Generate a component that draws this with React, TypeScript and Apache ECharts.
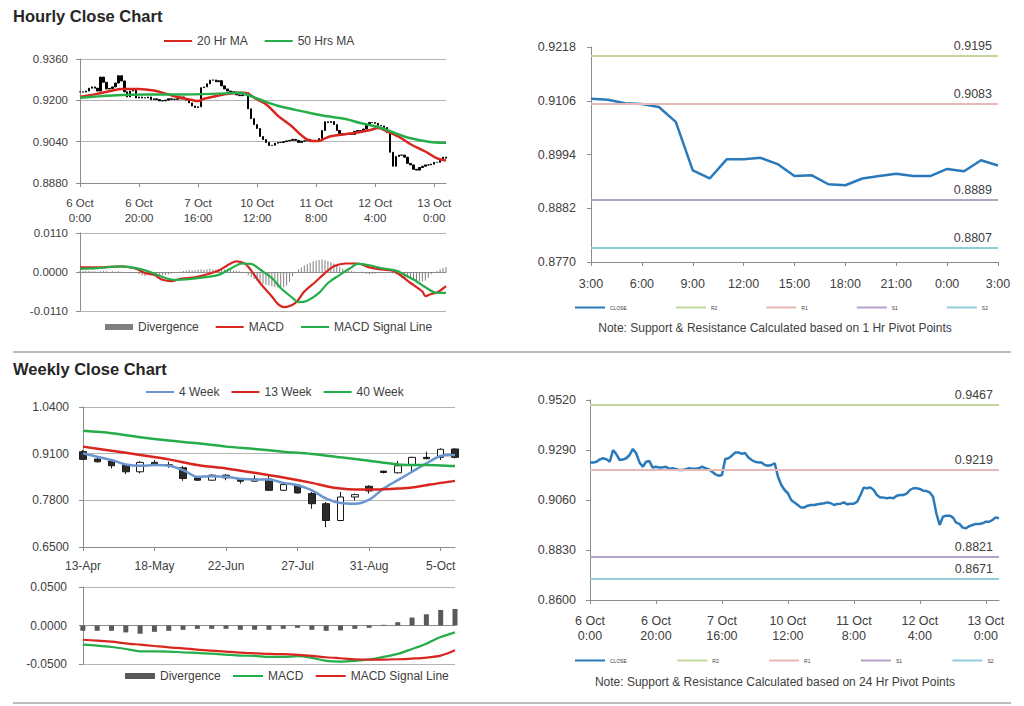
import React, { useEffect, useRef } from 'react';
import * as echarts from 'echarts';

const FONT = '"Liberation Sans", Arial, Helvetica, sans-serif';

// ---------- Hourly data (6 Oct 0:00 -> 13 Oct 4:00, weekend skipped) ----------
const hourlyDays = ['6 Oct', '7 Oct', '10 Oct', '11 Oct', '12 Oct', '13 Oct'];
const hourlyClose = [
  0.9233, 0.9232, 0.9236, 0.9247, 0.9252, 0.9247, 0.9236, 0.9290, 0.9270, 0.9244,
  0.9246, 0.9252, 0.9267, 0.9295, 0.9275, 0.9233, 0.9213, 0.9236, 0.9239, 0.9209,
  0.9213, 0.9209, 0.9210, 0.9213, 0.9203, 0.9206, 0.9203, 0.9198, 0.9198, 0.9201,
  0.9206, 0.9204, 0.9204, 0.9206, 0.9213, 0.9206, 0.9201, 0.9190, 0.9178, 0.9172,
  0.9175, 0.9249, 0.9252, 0.9264, 0.9278, 0.9279, 0.9272, 0.9276, 0.9256, 0.9244,
  0.9236, 0.9233, 0.9232, 0.9221, 0.9218, 0.9221, 0.9229, 0.9167, 0.9129, 0.9106,
  0.9091, 0.9060, 0.9048, 0.9037, 0.9025, 0.9026, 0.9034, 0.9037, 0.9037, 0.9040,
  0.9043, 0.9045, 0.9049, 0.9045, 0.9037, 0.9042, 0.9043, 0.9049, 0.9040, 0.9043,
  0.9043, 0.9052, 0.9083, 0.9117, 0.9114, 0.9118, 0.9106, 0.9083, 0.9071, 0.9071,
  0.9068, 0.9071, 0.9068, 0.9080, 0.9083, 0.9083, 0.9089, 0.9106, 0.9114, 0.9114,
  0.9111, 0.9103, 0.9101, 0.9095, 0.9075, 0.8999, 0.8945, 0.8983, 0.8988, 0.8988,
  0.8980, 0.8956, 0.8950, 0.8933, 0.8930, 0.8940, 0.8945, 0.8950, 0.8950, 0.8953,
  0.8960, 0.8960, 0.8968, 0.8980, 0.8976,
];
const ma20Hr = [
  [0, 0.9214], [5, 0.9223], [11, 0.9238], [14, 0.9244], [20, 0.9244], [25, 0.9238],
  [29, 0.9226], [33, 0.9213], [38, 0.9201], [40, 0.9197], [42, 0.9206], [47, 0.9219],
  [51, 0.9226], [55, 0.9229], [57, 0.9226], [59, 0.9210], [63, 0.9185], [67, 0.9141],
  [72, 0.9097], [75, 0.9065], [78, 0.9044], [81, 0.9043], [83, 0.9053], [85, 0.9061],
  [90, 0.9069], [94, 0.9075], [98, 0.9084], [101, 0.9093], [104, 0.9080], [108, 0.9059],
  [112, 0.9030], [117, 0.9002], [121, 0.8975], [124, 0.8967],
];
const ma50Hr = [
  [0, 0.9210], [11, 0.9219], [22, 0.9223], [33, 0.9223], [45, 0.9225], [54, 0.9229],
  [58, 0.9216], [63, 0.9194], [67, 0.9179], [73, 0.9163], [78, 0.9151], [84, 0.9138],
  [90, 0.9128], [95, 0.9112], [101, 0.9097], [107, 0.9072], [112, 0.9053], [118, 0.9040],
  [122, 0.9036], [124, 0.9036],
];
const hourlyMacd = [
  [0, 0.0013], [6, 0.0013], [14, 0.0016], [19, 0.0009], [22, -0.0003], [25, -0.0008],
  [28, -0.0022], [31, -0.0026], [34, -0.0019], [39, -0.0015], [42, -0.0009], [47, 0.0004],
  [50, 0.0019], [53, 0.0030], [56, 0.0023], [58, 0.0004], [61, -0.0031], [65, -0.0069],
  [67, -0.0090], [69, -0.0099], [73, -0.0087], [76, -0.0055], [80, -0.0026], [83, -0.0003],
  [86, 0.0016], [90, 0.0024], [94, 0.0024], [98, 0.0013], [102, 0.0007], [106, 0.0004],
  [109, -0.0012], [112, -0.0031], [116, -0.0055], [117, -0.0068], [119, -0.0062],
  [121, -0.0058], [124, -0.0040],
];
const hourlySignal = [
  [0, 0.0009], [6, 0.0011], [14, 0.0016], [19, 0.0011], [23, 0.0002], [28, -0.0014],
  [32, -0.0022], [37, -0.0020], [42, -0.0015], [47, -0.0008], [51, 0.0009], [55, 0.0024],
  [58, 0.0023], [61, 0.0007], [65, -0.0017], [68, -0.0045], [72, -0.0073], [74, -0.0085],
  [77, -0.0081], [81, -0.0059], [84, -0.0031], [88, -0.0008], [92, 0.0013], [94, 0.0023],
  [98, 0.0019], [102, 0.0011], [107, 0.0004], [110, -0.0008], [114, -0.0026], [117, -0.0043],
  [121, -0.0059], [124, -0.0059],
];
const hourlyDivergence = [
  0.0003, 0.0003, 0.0004, 0.0003, 0.0002,
  0.0002, 0.0001, 0.0002, 0.0003, 0.0002, 0.0001, 0.0002, 0.0001, 0.0002, 0.0001, 0.0001,
  0, -0.0001, -0.0003, -0.0002,
  -0.0006, -0.0010, -0.0011, -0.0009, -0.0008, -0.0009, -0.0010, -0.0011, -0.0009, -0.0008, -0.0006,
  -0.0004, -0.0002, -0.0001, 0.0001,
  0.0003, 0.0004, 0.0005, 0.0004, 0.0005, 0.0006, 0.0007, 0.0006, 0.0008, 0.0009, 0.0008,
  0.0007, 0.0008, 0.0009, 0.0007, 0.0006, 0.0005, 0.0004, 0.0003, 0.0002, 0.0001,
  -0.0003,
  -0.0009, -0.0014, -0.0020, -0.0025, -0.0030, -0.0033, -0.0036, -0.0038, -0.0040, -0.0042,
  -0.0044, -0.0045, -0.0043, -0.0038, -0.0028,
  -0.0012, -0.0003,
  0.0008, 0.0013, 0.0018, 0.0022, 0.0026, 0.0030, 0.0032, 0.0034, 0.0035, 0.0033, 0.0031,
  0.0028, 0.0024, 0.0019, 0.0014, 0.0009, 0.0005,
  0.0003, 0.0002, 0.0001, 0, -0.0001,
  -0.0003, -0.0005, -0.0006, -0.0005, -0.0004, -0.0003,
  -0.0002, -0.0001, 0, -0.0001,
  -0.0004, -0.0007, -0.0010, -0.0013, -0.0015, -0.0017, -0.0019, -0.0021, -0.0024, -0.0026,
  -0.0027, -0.0024, -0.0016,
  -0.0006, -0.0002,
  0.0003, 0.0007, 0.0011, 0.0014,
];

// ---------- 1 Hr pivot panel ----------
const pivotHours = ['3:00', '4:00', '5:00', '6:00', '7:00', '8:00', '9:00', '10:00', '11:00', '12:00',
  '13:00', '14:00', '15:00', '16:00', '17:00', '18:00', '19:00', '20:00', '21:00', '22:00',
  '23:00', '0:00', '1:00', '2:00', '3:00'];
const pivotClose = [0.9110, 0.9108, 0.9101, 0.9099, 0.9093, 0.9062, 0.8961, 0.8944, 0.8984, 0.8984,
  0.8987, 0.8974, 0.8949, 0.8951, 0.8932, 0.8930, 0.8944, 0.8949, 0.8954, 0.8949,
  0.8949, 0.8964, 0.8959, 0.8982, 0.8971];
const levelNames = ['R2', 'R1', 'S1', 'S2'];
const pivot1hLevels = [0.9195, 0.9083, 0.8889, 0.8807];
const pivot24hLevels = [0.9467, 0.9219, 0.8821, 0.8671];

// ---------- Weekly data ----------
const weeklyDates = ['13-Apr', '20-Apr', '27-Apr', '4-May', '11-May', '18-May', '25-May', '1-Jun', '8-Jun',
  '15-Jun', '22-Jun', '29-Jun', '6-Jul', '13-Jul', '20-Jul', '27-Jul', '3-Aug', '10-Aug', '17-Aug',
  '24-Aug', '31-Aug', '7-Sep', '14-Sep', '21-Sep', '28-Sep', '5-Oct', '12-Oct'];
const weeklyOpen = [0.9156, 0.8950, 0.8894, 0.8782, 0.8595, 0.8857, 0.8791, 0.8707, 0.8426, 0.8361,
  0.8501, 0.8389, 0.8333, 0.8389, 0.8080, 0.8221, 0.7987, 0.7706, 0.7238, 0.7893, 0.8193, 0.8614,
  0.8567, 0.8782, 0.8997, 0.8997, 0.9231];
const weeklyClose = [0.8941, 0.8875, 0.8763, 0.8595, 0.8857, 0.8782, 0.8773, 0.8408, 0.8361, 0.8501,
  0.8426, 0.8333, 0.8398, 0.8080, 0.8239, 0.8006, 0.7706, 0.7238, 0.7893, 0.7959, 0.8062, 0.8576,
  0.8763, 0.8997, 0.8960, 0.9222, 0.8997];
const weeklyLow = [0.8922, 0.8847, 0.8688, 0.8529, 0.8548, 0.8763, 0.8707, 0.8342, 0.8342, 0.8342,
  0.8361, 0.8267, 0.8314, 0.8062, 0.8062, 0.7987, 0.7566, 0.7051, 0.7220, 0.7800, 0.7987, 0.8548,
  0.8548, 0.8595, 0.8941, 0.8922, 0.8969];
const weeklyHigh = [0.9203, 0.8969, 0.8922, 0.8801, 0.8894, 0.8922, 0.8875, 0.8754, 0.8436, 0.8529,
  0.8529, 0.8408, 0.8501, 0.8529, 0.8267, 0.8249, 0.8034, 0.7753, 0.8034, 0.7986, 0.8221, 0.8623,
  0.8894, 0.9016, 0.9156, 0.9250, 0.9250];
const ma4Week = [0.9109, 0.9016, 0.8922, 0.8801, 0.8763, 0.8782, 0.8763, 0.8642, 0.8455, 0.8473,
  0.8455, 0.8398, 0.8380, 0.8380, 0.8286, 0.8221, 0.8080, 0.7847, 0.7725, 0.7706, 0.7818, 0.8127,
  0.8361, 0.8595, 0.8829, 0.9035, 0.9063];
const ma13Week = [[0, 0.9296], [2, 0.9184], [4, 0.9063], [6, 0.8941], [8, 0.8782], [10, 0.8688],
  [12, 0.8567], [14, 0.8436], [16, 0.8286], [17, 0.8193], [18, 0.8127], [19, 0.8099], [20, 0.8099],
  [21, 0.8108], [22, 0.8127], [23, 0.8155], [24, 0.8221], [25, 0.8286], [26, 0.8342]];
const ma40Week = [[0, 0.9736], [2, 0.9671], [4, 0.9558], [6, 0.9465], [8, 0.9390], [10, 0.9296],
  [12, 0.9231], [14, 0.9156], [16, 0.9091], [18, 0.8997], [20, 0.8904], [21, 0.8847], [22, 0.8801],
  [23, 0.8782], [24, 0.8782], [25, 0.8773], [26, 0.8754]];
const weeklyMacd = [-0.0249, -0.0262, -0.0279, -0.0305, -0.0335, -0.0335, -0.0339, -0.0348, -0.0356,
  -0.0365, -0.0378, -0.0391, -0.0395, -0.0408, -0.0408, -0.0399, -0.0421, -0.0459, -0.0468, -0.0459,
  -0.0442, -0.0408, -0.0369, -0.0305, -0.0236, -0.0150, -0.0090];
const weeklySignal = [-0.0185, -0.0197, -0.0210, -0.0232, -0.0249, -0.0266, -0.0283, -0.0296, -0.0313,
  -0.0326, -0.0339, -0.0352, -0.0361, -0.0369, -0.0373, -0.0382, -0.0395, -0.0412, -0.0425, -0.0438,
  -0.0442, -0.0442, -0.0438, -0.0429, -0.0416, -0.0391, -0.0322];
const weeklyDivergence = [-0.0069, -0.0069, -0.0069, -0.0090, -0.0107, -0.0082, -0.0069, -0.0056,
  -0.0043, -0.0043, -0.0043, -0.0056, -0.0056, -0.0056, -0.0043, -0.0030, -0.0056, -0.0069, -0.0064,
  -0.0043, -0.0030, 0.0009, 0.0043, 0.0103, 0.0146, 0.0202, 0.0215];

// ---------- Tick values ----------
const hourlyPriceTicks = [0.888, 0.904, 0.92, 0.936];
const hourlyMacdTicks = [-0.011, 0, 0.011];
const pivot1hTicks = [0.877, 0.8882, 0.8994, 0.9106, 0.9218];
const weeklyPriceTicks = [0.65, 0.78, 0.91, 1.04];
const weeklyMacdTicks = [-0.05, 0, 0.05];
const pivot24hTicks = [0.86, 0.883, 0.906, 0.929, 0.952];

const AXIS = '#8c8c8c';
const GRIDC = '#b4b4b4';
const TXT = '#404040';
const RED = '#d8261f';
const GREEN = '#25ad4a';
const BLUE4 = '#6a96cf';
const CLOSE_BLUE = '#2a7abb';
const levelColors = ['#c3d69b', '#e6b9b8', '#b3a2c7', '#92cddc'];

function yAxis(gridIndex: number, ticks: number[], fontSize: number, margin: number, split: boolean) {
  return {
    type: 'value', gridIndex, min: ticks[0], max: ticks[ticks.length - 1],
    axisLine: { show: true, lineStyle: { color: AXIS } },
    axisTick: { show: true, length: 4, lineStyle: { color: AXIS }, customValues: ticks },
    axisLabel: {
      customValues: ticks, formatter: (v: number) => v.toFixed(4), fontSize, color: TXT,
      fontFamily: FONT, margin,
    },
    splitLine: { show: split, lineStyle: { color: GRIDC, width: 1 } },
  };
}

function catAxis(gridIndex: number, data: string[], interval: number, fontSize: number, margin: number, lineHeight: number) {
  return {
    type: 'category', gridIndex, data, boundaryGap: false,
    axisLine: { lineStyle: { color: AXIS } },
    axisTick: { show: true, interval, length: 4, lineStyle: { color: AXIS } },
    axisLabel: { interval, fontSize, color: TXT, fontFamily: FONT, margin, lineHeight },
    splitLine: { show: false },
  };
}

function lineSeries(name: string, xi: number, data: any[], color: string, width: number, smooth: any) {
  return {
    type: 'line', name, xAxisIndex: xi, yAxisIndex: xi, data, color,
    symbol: 'none', smooth, lineStyle: { color, width }, z: 3,
  };
}

function levelSeries(name: string, xi: number, value: number, color: string) {
  return {
    type: 'line', name, xAxisIndex: xi, yAxisIndex: xi, data: [], color, symbol: 'none',
    lineStyle: { color, width: 2 },
    markLine: {
      silent: true, symbol: ['none', 'none'], animation: false,
      lineStyle: { color, width: 2, type: 'solid' },
      label: {
        show: true, position: 'insideEndTop', formatter: value.toFixed(4), color: TXT,
        fontSize: 12.5, fontFamily: FONT, distance: [6, 3],
      },
      data: [{ yAxis: value }],
    },
  };
}

function buildOption() {
  const allHourCats: string[] = [];
  for (const d of hourlyDays) for (let h = 0; h < 24; h++) allHourCats.push(`${d}\n${h}:00`);
  const hourlyCats = allHourCats.slice(0, hourlyClose.length);
  const hourlyCandles = hourlyClose.map((c, i) => {
    const o = i > 0 ? hourlyClose[i - 1] : c;
    return [o, c, Math.min(o, c), Math.max(o, c)];
  });
  const weeklyCandles = weeklyDates.map((_, i) => [weeklyOpen[i], weeklyClose[i], weeklyLow[i], weeklyHigh[i]]);

  const legendBase = {
    orient: 'horizontal', padding: 0, itemWidth: 28, itemHeight: 6, selectedMode: false,
    itemStyle: { opacity: 0 },
    textStyle: { fontSize: 12, color: TXT, fontFamily: FONT },
  };
  const tinyLegend = {
    orient: 'horizontal', padding: 0, itemWidth: 30, itemHeight: 4, itemGap: 48, selectedMode: false,
    itemStyle: { opacity: 0 },
    textStyle: { fontSize: 5, color: TXT, fontFamily: FONT },
  };

  const series: any[] = [
    // hourly price
    {
      type: 'candlestick', name: 'Hourly', xAxisIndex: 0, yAxisIndex: 0, data: hourlyCandles,
      barWidth: 2, itemStyle: { color: '#000', color0: '#000', borderColor: '#000', borderColor0: '#000', borderWidth: 1 },
    },
    lineSeries('20 Hr MA', 0, ma20Hr, RED, 2.5, 0.35),
    lineSeries('50 Hrs MA', 0, ma50Hr, GREEN, 2.5, 0.35),
    // hourly MACD
    {
      type: 'bar', name: 'Divergence', xAxisIndex: 1, yAxisIndex: 1, data: hourlyDivergence,
      barWidth: 1, itemStyle: { color: '#7f7f7f' }, color: '#595959',
    },
    lineSeries('MACD', 1, hourlyMacd, RED, 2.2, 0.35),
    lineSeries('MACD Signal Line', 1, hourlySignal, GREEN, 2.2, 0.35),
    // 1 hr pivot
    ...levelNames.map((n, k) => levelSeries(n, 2, pivot1hLevels[k], levelColors[k])),
    lineSeries('CLOSE', 2, pivotClose, CLOSE_BLUE, 2.5, false),
    // weekly price
    {
      type: 'candlestick', name: 'Weekly', xAxisIndex: 3, yAxisIndex: 3, data: weeklyCandles,
      barWidth: 7, clip: false,
      itemStyle: { color: '#ffffff', color0: '#2b2b2b', borderColor: '#1a1a1a', borderColor0: '#1a1a1a', borderWidth: 1 },
    },
    lineSeries('4 Week', 3, ma4Week, BLUE4, 2.5, 0.3),
    lineSeries('13 Week', 3, ma13Week, RED, 2.5, 0.3),
    lineSeries('40 Week', 3, ma40Week, GREEN, 2.5, 0.3),
    // weekly MACD
    {
      type: 'bar', name: 'Divergence ', xAxisIndex: 4, yAxisIndex: 4,
      data: weeklyDivergence.map((v, i) => [i, v]), barWidth: 5, itemStyle: { color: '#595959' }, color: '#595959',
    },
    lineSeries('MACD ', 4, weeklyMacd.map((v, i) => [i, v]), GREEN, 2.2, 0.3),
    lineSeries('MACD Signal Line ', 4, weeklySignal.map((v, i) => [i, v]), RED, 2.2, 0.3),
    // 24 hr pivot
    ...levelNames.map((n, k) => levelSeries(n + ' ', 5, pivot24hLevels[k], levelColors[k])),
    lineSeries('CLOSE ', 5, hourlyClose, CLOSE_BLUE, 2.5, false),
  ];

  const divItem = (name: string) => ({ name, icon: 'rect', itemStyle: { opacity: 1 } });

  return {
    animation: false,
    backgroundColor: '#ffffff',
    textStyle: { fontFamily: FONT },
    grid: [
      { left: 80, top: 59, width: 366, height: 124 },
      { left: 80, top: 233, width: 366, height: 78 },
      { left: 591, top: 47, width: 407, height: 215 },
      { left: 83, top: 407, width: 372, height: 140 },
      { left: 80, top: 587, width: 375, height: 77 },
      { left: 590, top: 400, width: 409, height: 200 },
    ],
    xAxis: [
      catAxis(0, hourlyCats, 19, 11.5, 12, 15),
      {
        type: 'category', gridIndex: 1, data: hourlyCats, boundaryGap: false,
        axisLine: { onZero: true, lineStyle: { color: AXIS } }, axisTick: { show: false },
        axisLabel: { show: false }, splitLine: { show: false },
      },
      catAxis(2, pivotHours, 2, 12.5, 14.5, 15),
      catAxis(3, weeklyDates, 4, 12, 11, 15),
      {
        type: 'value', gridIndex: 4, min: -0.2, max: 26,
        axisLine: { onZero: true, lineStyle: { color: AXIS } }, axisTick: { show: false },
        axisLabel: { show: false }, splitLine: { show: false },
      },
      catAxis(5, hourlyCats, 19, 12.5, 13, 15.5),
    ],
    yAxis: [
      yAxis(0, hourlyPriceTicks, 11.5, 12, true),
      yAxis(1, hourlyMacdTicks, 11.5, 12, true),
      yAxis(2, pivot1hTicks, 12.5, 15, false),
      yAxis(3, weeklyPriceTicks, 12, 14, true),
      yAxis(4, weeklyMacdTicks, 12, 13, true),
      yAxis(5, pivot24hTicks, 12.5, 14, false),
    ],
    legend: [
      { ...legendBase, left: 163, top: 35, itemGap: 16, data: ['20 Hr MA', '50 Hrs MA'] },
      { ...legendBase, left: 105, top: 321, itemGap: 16, data: [divItem('Divergence'), 'MACD', 'MACD Signal Line'] },
      { ...tinyLegend, left: 574, top: 305, data: ['CLOSE', ...levelNames] },
      { ...legendBase, left: 145, top: 386, itemGap: 11, data: ['4 Week', '13 Week', '40 Week'] },
      { ...legendBase, left: 125, top: 670, itemGap: 8, itemWidth: 30, data: [divItem('Divergence '), 'MACD ', 'MACD Signal Line '] },
      { ...tinyLegend, left: 574, top: 658, data: ['CLOSE ', ...levelNames.map((n) => n + ' ')] },
    ],
    graphic: [
      { type: 'text', x: 13, y: 16, style: { text: 'Hourly Close Chart', fontSize: 16.5, fontWeight: 'bold', fontFamily: FONT, fill: '#262626', verticalAlign: 'middle' } },
      { type: 'text', x: 13, y: 369, style: { text: 'Weekly Close Chart', fontSize: 16.5, fontWeight: 'bold', fontFamily: FONT, fill: '#262626', verticalAlign: 'middle' } },
      { type: 'line', shape: { x1: 13, y1: 352, x2: 1011, y2: 352 }, style: { stroke: '#a6a6a6', lineWidth: 1.5 } },
      { type: 'line', shape: { x1: 13, y1: 703, x2: 1011, y2: 703 }, style: { stroke: '#a6a6a6', lineWidth: 1.5 } },
      { type: 'text', x: 775, y: 328, style: { text: 'Note: Support & Resistance Calculated based on 1 Hr Pivot Points', fontSize: 12, fontFamily: FONT, fill: TXT, align: 'center', verticalAlign: 'middle' } },
      { type: 'text', x: 775, y: 682, style: { text: 'Note: Support & Resistance Calculated based on 24 Hr Pivot Points', fontSize: 12, fontFamily: FONT, fill: TXT, align: 'center', verticalAlign: 'middle' } },
    ],
    series,
  };
}

export default function App() {
  const ref = useRef<HTMLDivElement>(null);
  useEffect(() => {
    if (!ref.current) return;
    const chart = echarts.init(ref.current, null, { renderer: 'svg' });
    chart.setOption(buildOption() as any);
    return () => chart.dispose();
  }, []);
  return (
    <div
      ref={ref}
      style={{ position: 'absolute', left: 0, top: 0, width: 1024, height: 706, background: '#fff' }}
    />
  );
}
